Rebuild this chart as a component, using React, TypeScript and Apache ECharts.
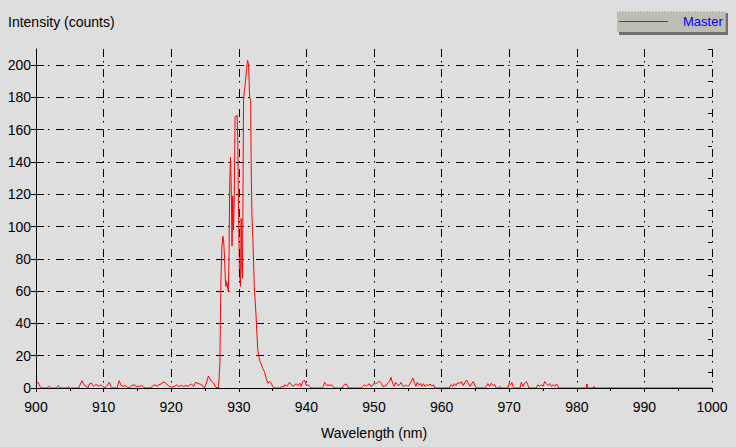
import React, { useEffect, useRef } from "react";
import * as echarts from "echarts";

const seriesName = "Master";
const xTitle = "Wavelength (nm)";
const yTitle = "Intensity (counts)";
const xMin = 900;
const xMax = 1000;
const xStep = 10;
const yMin = 0;
const yMax = 210;
const yStep = 20;
const yMinorStep = 10;

// [wavelength (nm), counts]
const lowNoise: [number, number][] = [
  [900, 3], [900.3, 3.5], [900.6, 1], [900.8, 0],
  [901.6, 0], [901.9, 1], [902.2, 0],
  [903.0, 0], [903.3, 1.5], [903.6, 0],
  [904.6, 0], [904.8, 0.8], [905.0, 0],
  [906.3, 0], [906.8, 4.5], [907.1, 2], [907.4, 1], [907.7, 0],
  [907.9, 2.5], [908.2, 3], [908.5, 1], [908.8, 2], [909.0, 2], [909.3, 1], [909.6, 2], [909.9, 1],
  [910.2, 0], [910.5, 1.5], [910.85, 3.5], [911.1, 1], [911.3, 0],
  [912.0, 0], [912.3, 4.5], [912.6, 1.5], [912.9, 1], [913.2, 1.5], [913.5, 0.5], [913.8, 0],
  [914.15, 1.5], [914.5, 2], [914.8, 1], [915.2, 1], [915.6, 1.5], [915.9, 0.5], [916.2, 0],
  [917.0, 0], [917.3, 1.5], [917.6, 2], [917.9, 1], [918.2, 2], [918.5, 2.5], [918.8, 3.7],
  [919.1, 3.5], [919.4, 2], [919.7, 1], [920.0, 0.5], [920.5, 1], [920.8, 2], [921.1, 1],
  [921.5, 1.5], [921.8, 1], [922.2, 1.5], [922.5, 1], [922.8, 2], [923.0, 2.5], [923.3, 1],
  [923.6, 3.5], [923.9, 3], [924.2, 2.5], [924.5, 2], [924.9, 0], [925.2, 3], [925.5, 7.4],
  [925.8, 5], [926.0, 4], [926.3, 3], [926.55, 0.6], [927.0, 0],
];

const peakBand: [number, number][] = [
  [927.2, 15], [927.35, 65], [927.5, 88], [927.65, 94], [927.75, 92], [927.9, 80],
  [928.0, 68], [928.1, 63], [928.2, 66], [928.3, 66], [928.45, 60], [928.55, 80],
  [928.65, 125], [928.77, 143], [928.9, 120], [929.0, 88], [929.1, 119], [929.2, 98],
  [929.3, 110], [929.45, 168], [929.6, 168], [929.75, 169], [929.85, 152], [930.0, 95],
  [930.1, 72], [930.25, 63], [930.35, 105], [930.45, 75], [930.55, 68], [930.7, 178],
  [930.85, 185], [931.0, 190], [931.15, 198], [931.3, 203], [931.45, 200], [931.6, 180],
  [931.75, 178], [931.85, 130], [931.95, 107], [932.1, 90], [932.3, 62], [932.55, 45],
  [932.8, 24], [933.06, 17], [933.3, 15], [933.55, 12], [933.8, 10], [934.05, 6],
  [934.3, 3], [934.55, 4], [934.8, 3], [935.0, 1], [935.2, 0],
];

const highNoise: [number, number][] = [
  [936.1, 0], [936.4, 1], [936.6, 0.5], [936.8, 2], [937.1, 1], [937.5, 3.5], [937.8, 2],
  [938.0, 1], [938.5, 2.7], [938.7, 1.5], [939.0, 3], [939.2, 1], [939.47, 4], [939.7, 5],
  [940.0, 1.5], [940.2, 2], [940.5, 1], [940.7, 0],
  [942.3, 0], [942.5, 1], [942.7, 3.5], [943.0, 1.5], [943.2, 2], [943.5, 1.5], [943.7, 2],
  [944.0, 0.5], [944.2, 0],
  [945.3, 0], [945.6, 2], [945.9, 2.5], [946.1, 1], [946.3, 0],
  [948.1, 0], [948.35, 1], [948.6, 2], [948.85, 1], [949.1, 2], [949.3, 2.7], [949.55, 1],
  [949.8, 1.5], [950.0, 3], [950.25, 2.5], [950.57, 3.5], [950.8, 4], [951.0, 3.5],
  [951.3, 1], [951.5, 1], [951.8, 1.5], [952.0, 3], [952.3, 4], [952.5, 6.6], [952.75, 3],
  [953.0, 1], [953.2, 3.5], [953.45, 2], [953.7, 1.5], [954.0, 3.5], [954.2, 1.5],
  [954.45, 1], [954.7, 2], [954.95, 1], [955.2, 1.5], [955.5, 4], [955.75, 6.2], [956.0, 3],
  [956.2, 1], [956.4, 3.5], [956.65, 2], [956.9, 2.7], [957.1, 1], [957.3, 2.7], [957.55, 1],
  [957.8, 2], [958.05, 1.5], [958.3, 2.5], [958.55, 1], [958.8, 2], [959.0, 0],
  [961.1, 0], [961.4, 2], [961.65, 1], [961.9, 2.7], [962.15, 1.5], [962.4, 3.5],
  [962.65, 2.5], [962.9, 4], [963.2, 1.5], [963.45, 3.5], [963.7, 5], [963.95, 3],
  [964.2, 1], [964.5, 3], [964.7, 4], [964.95, 1.4], [965.2, 0],
  [966.4, 0], [966.6, 1], [966.85, 2.7], [967.1, 1], [967.35, 3], [967.6, 1.5], [967.85, 2],
  [968.1, 0], [968.4, 0], [968.6, 1], [968.8, 0],
  [969.8, 0], [970.0, 3], [970.2, 2], [970.4, 3.5], [970.55, 1], [970.7, 0],
  [971.6, 0], [971.8, 3.5], [972.05, 1], [972.3, 3], [972.55, 4], [972.75, 2], [972.9, 0],
  [974.0, 0], [974.25, 2], [974.5, 1], [974.75, 2], [975.0, 1], [975.25, 4], [975.5, 2.7],
  [975.75, 1.5], [976.0, 2.7], [976.25, 1], [976.5, 2], [976.75, 1], [977.0, 2.5],
  [977.15, 1.5], [977.3, 0],
  [981.4, 0], [981.5, 2.5], [981.6, 0], [982.4, 0], [982.55, 1], [982.7, 0], [1000, 0],
];

const FONT = '"Liberation Sans", Arial, sans-serif';
const GRID_DASH = [8, 4, 1.5, 6.5];

export default function App() {
  const ref = useRef<HTMLDivElement>(null);

  useEffect(() => {
    if (!ref.current) return;
    const chart = echarts.init(ref.current, undefined, { renderer: "svg" });
    const data = [...lowNoise, ...peakBand, ...highNoise];

    chart.setOption({
      animation: false,
      backgroundColor: "#dedede",
      title: {
        text: yTitle,
        left: 6,
        top: 15,
        padding: [0, 2],
        textStyle: { fontFamily: FONT, fontSize: 14, fontWeight: "normal", color: "#000" },
      },
      legend: {
        data: [{ name: seriesName, icon: "rect" }],
        left: 617,
        top: 11,
        padding: [4, 3, 4, 2],
        itemWidth: 49,
        itemHeight: 1,
        backgroundColor: "#bdbdb5",
        textStyle: {
          fontFamily: FONT,
          fontSize: 13,
          color: "#0000ff",
          padding: [0, 0, 0, 10],
        },
        z: 5,
      },
      graphic: [
        {
          type: "rect",
          shape: { x: 619, y: 13, width: 109, height: 22 },
          style: { fill: "#707070" },
          z: 1,
          silent: true,
        },
        {
          type: "line",
          shape: { x1: 618, y1: 11.5, x2: 725, y2: 11.5 },
          style: { stroke: "#f4f4f4", lineWidth: 1, lineDash: [1, 2] },
          z: 10,
          silent: true,
        },
      ],
      grid: { left: 36, right: 24, top: 49, bottom: 59 },
      xAxis: {
        type: "value",
        min: xMin,
        max: xMax,
        interval: xStep,
        z: 3,
        name: xTitle,
        nameLocation: "middle",
        nameGap: 38,
        nameTextStyle: { fontFamily: FONT, fontSize: 14, color: "#000" },
        axisLine: { show: true, lineStyle: { color: "#000", width: 1 } },
        axisTick: { show: true, inside: false, length: 4, lineStyle: { color: "#000" } },
        minorTick: { show: true, splitNumber: 2, length: 3, lineStyle: { color: "#000" } },
        axisLabel: {
          fontFamily: FONT,
          fontSize: 14,
          color: "#000",
          margin: 12,
          formatter: (v: number) => String(v),
        },
        splitLine: {
          show: true,
          lineStyle: { color: "#000", width: 1, type: GRID_DASH },
        },
      },
      yAxis: [
        {
          type: "value",
          min: yMin,
          max: yMax,
          interval: yStep,
          axisLine: { show: true, lineStyle: { color: "#000", width: 1 } },
          axisTick: { show: true, inside: false, length: 5, lineStyle: { color: "#000" } },
          axisLabel: {
            fontFamily: FONT,
            fontSize: 14,
            color: "#000",
            margin: 5,
            showMaxLabel: false,
            formatter: (v: number) => String(v),
          },
          splitLine: {
            show: true,
            showMaxLine: false,
            lineStyle: { color: "#000", width: 1, type: GRID_DASH },
          },
        },
        {
          type: "value",
          min: yMin,
          max: yMax,
          interval: yMinorStep,
          axisLine: { show: false },
          axisTick: { show: true, inside: true, length: 4, lineStyle: { color: "#000" } },
          axisLabel: { show: false },
          splitLine: { show: false },
        },
      ],
      series: [
        {
          name: seriesName,
          type: "line",
          data,
          yAxisIndex: 0,
          showSymbol: false,
          symbol: "none",
          lineStyle: { color: "#ff0000", width: 1 },
          itemStyle: { color: "#ff0000" },
          z: 2,
        },
      ],
    });

    return () => chart.dispose();
  }, []);

  return (
    <div
      ref={ref}
      style={{ position: "fixed", left: 0, top: 0, width: 736, height: 447 }}
    />
  );
}
